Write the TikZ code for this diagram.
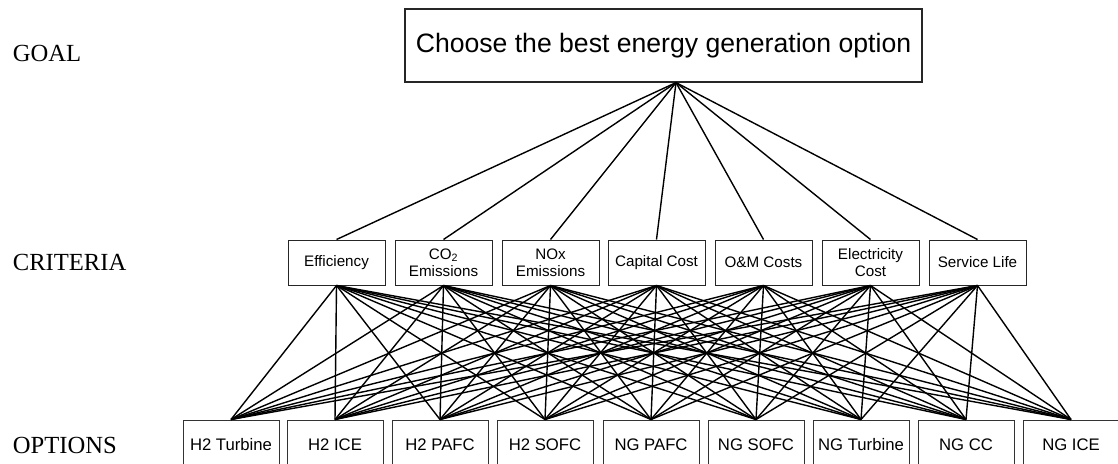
\documentclass[tikz,border=0pt]{standalone}
\usepackage{fontspec}
\setmainfont{Liberation Serif}
\newfontfamily\arialish{Liberation Sans}
\begin{document}
\begin{tikzpicture}[x=1pt,y=-1pt,
  levellabel/.style={anchor=base west,inner sep=0pt,font=\fontsize{24.6}{28}\selectfont},
  goalbox/.style={draw=black!85,line width=1.2pt,rectangle,inner sep=0pt,minimum width=517pt,minimum height=73pt,font=\arialish\fontsize{26.6}{30}\selectfont},
  critbox/.style={draw=black!85,line width=1pt,rectangle,inner sep=0pt,minimum width=97pt,minimum height=45pt,align=center,font=\arialish\fontsize{15.2}{17.4}\selectfont},
  optbox/.style={draw=black!80,line width=1pt,rectangle,inner sep=0pt,minimum width=96pt,minimum height=49pt,font=\arialish\fontsize{16.7}{19}\selectfont},
  link/.style={draw=black,line width=1.4pt}]
\useasboundingbox (0,0) rectangle (1118,463);

% level labels
\node[levellabel] (lgoal) at (12.7,61) {GOAL};
\node[levellabel] (lcrit) at (12.7,270) {CRITERIA};
\node[levellabel] (lopt) at (12.7,453.3) {OPTIONS};

% goal
\node[goalbox] (goal) at (663.5,45.5) {Choose the best energy generation option};

% criteria
\node[critbox] (c1) at (336.5,262.5) {Efficiency};
\node[critbox] (c2) at (443.5,262.5) {CO\textsubscript{2}\\Emissions};
\node[critbox] (c3) at (550.5,262.5) {NOx\\Emissions};
\node[critbox] (c4) at (656.5,262.5) {Capital Cost};
\node[critbox] (c5) at (763.5,262.5) {O\&M Costs};
\node[critbox] (c6) at (870.5,262.5) {Electricity\\Cost};
\node[critbox] (c7) at (977.5,262.5) {Service Life};

% options
\node[optbox] (o1) at (231,444.5) {H2 Turbine};
\node[optbox] (o2) at (335,444.5) {H2 ICE};
\node[optbox] (o3) at (440,444.5) {H2 PAFC};
\node[optbox] (o4) at (545,444.5) {H2 SOFC};
\node[optbox] (o5) at (651,444.5) {NG PAFC};
\node[optbox] (o6) at (756,444.5) {NG SOFC};
\node[optbox] (o7) at (861,444.5) {NG Turbine};
\node[optbox] (o8) at (966,444.5) {NG CC};
\node[optbox] (o9) at (1071,444.5) {NG ICE};

% goal to criteria
\coordinate (gout) at ([xshift=12.5pt]goal.south);
\foreach \c in {1,...,7}{
  \draw[link] (gout) -- (c\c.north);
}
% criteria to options
\foreach \c in {1,...,7}{
  \foreach \o in {1,...,9}{
    \draw[link] (c\c.south) -- (o\o.north);
  }
}
\end{tikzpicture}
\end{document}
